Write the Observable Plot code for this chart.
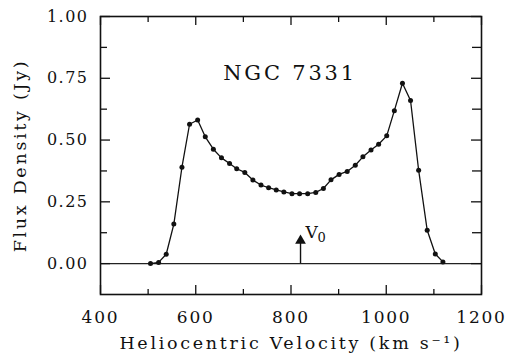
<!DOCTYPE html>
<html>
<head>
<meta charset="utf-8">
<script src="https://cdn.jsdelivr.net/npm/d3@7"></script>
<script src="https://cdn.jsdelivr.net/npm/@observablehq/plot@0.6"></script>
<style>
  html, body { margin: 0; padding: 0; background: #fff; }
</style>
</head>
<body>
<div id="chart"></div>
<script>
// HI profile of NGC 7331
const velocity = [505, 522, 538, 554, 571, 587, 604, 620, 637, 654, 671, 686, 703, 720, 737, 753, 769, 785, 802, 818,
                  835, 852, 868, 884, 901, 918, 935, 951, 968, 984, 1001, 1017, 1034, 1051, 1068, 1086, 1103, 1119];
const flux = [0.000, 0.005, 0.038, 0.160, 0.390, 0.564, 0.581, 0.513, 0.463, 0.428, 0.405, 0.384, 0.369, 0.338, 0.318, 0.307, 0.298, 0.290, 0.283, 0.283,
              0.283, 0.288, 0.304, 0.339, 0.361, 0.373, 0.398, 0.432, 0.460, 0.483, 0.517, 0.619, 0.730, 0.660, 0.378, 0.135, 0.039, 0.007];

const xMajorTicks = [400, 600, 800, 1000, 1200];
const xMinorTicks = [500, 700, 900, 1100];
const yMajorTicks = [0, 0.25, 0.5, 0.75, 1.0];
const yMinorTicks = [0.125, 0.375, 0.625, 0.875];

const xDomain = [400, 1200];
const yDomain = [-0.125, 1.0];

const titleText = ["NGC 7331"];
const titleVelocity = [798];
const titleFlux = [0.772];

const systemicVelocity = [820];   // V0 marker
const markerTop = [0.088];
const markerTip = [0.093];
const v0Label = ["V"];
const v0Sub = ["0"];
const v0LabelFlux = [0.105];

const xLabel = "Heliocentric Velocity (km s\u207B\u00B9)";
const yLabel = "Flux Density (Jy)";

const data = velocity.map((v, i) => ({v, f: flux[i]}));
const font = "DejaVu Serif";
const yFormat = d3.format(".2f");

const W = 508, H = 355, mL = 100, mR = 27, mT = 16, mB = 61;
const innerW = W - mL - mR, innerH = H - mT - mB;
const tickStyle = {stroke: "#111", strokeWidth: 1.3};

const plot = Plot.plot({
  width: W,
  height: H,
  marginLeft: mL,
  marginRight: mR,
  marginTop: mT,
  marginBottom: mB,
  style: {fontFamily: font, background: "#fff", color: "#111"},
  x: {domain: xDomain, axis: null},
  y: {domain: yDomain, axis: null},
  marks: [
    // zero line
    Plot.ruleY([0], {stroke: "#222", strokeWidth: 1.1}),
    // inward ticks: bottom / top
    Plot.tickX(xMajorTicks, {x: d => d, insetTop: innerH - 9, ...tickStyle}),
    Plot.tickX(xMinorTicks, {x: d => d, insetTop: innerH - 5, ...tickStyle}),
    Plot.tickX(xMajorTicks, {x: d => d, insetBottom: innerH - 9, ...tickStyle}),
    Plot.tickX(xMinorTicks, {x: d => d, insetBottom: innerH - 6, ...tickStyle}),
    // inward ticks: left / right
    Plot.tickY(yMajorTicks, {y: d => d, insetRight: innerW - 10, ...tickStyle}),
    Plot.tickY(yMinorTicks, {y: d => d, insetRight: innerW - 7, ...tickStyle}),
    Plot.tickY(yMajorTicks, {y: d => d, insetLeft: innerW - 10, ...tickStyle}),
    Plot.tickY(yMinorTicks, {y: d => d, insetLeft: innerW - 9, ...tickStyle}),
    // tick labels
    Plot.axisX(xMajorTicks, {anchor: "bottom", tickSize: 0, tickPadding: 16, fontSize: 17, label: null, tickFormat: d => String(d)}),
    Plot.axisY(yMajorTicks, {anchor: "left", tickSize: 0, tickPadding: 12, fontSize: 16, label: null, tickFormat: yFormat}),
    // frame
    Plot.frame({stroke: "#111", strokeWidth: 1.6}),
    // profile
    Plot.line(data, {x: "v", y: "f", stroke: "#111", strokeWidth: 1.3}),
    Plot.dot(data, {x: "v", y: "f", r: 2.5, fill: "#111", stroke: "none"}),
    // V0 marker
    Plot.ruleX(systemicVelocity, {y1: 0, y2: markerTop[0], stroke: "#111", strokeWidth: 1.4}),
    Plot.dot(systemicVelocity, {x: d => d, y: markerTip[0], symbol: "triangle", r: 4, fill: "#111", stroke: "none"}),
    Plot.text(v0Label, {x: systemicVelocity[0], y: v0LabelFlux[0], dx: 5, text: d => d, textAnchor: "start", lineAnchor: "bottom", fontSize: 17}),
    Plot.text(v0Sub, {x: systemicVelocity[0], y: v0LabelFlux[0], dx: 17, dy: 4, text: d => d, textAnchor: "start", lineAnchor: "bottom", fontSize: 13}),
    // title
    Plot.text(titleText, {x: titleVelocity[0], y: titleFlux[0], text: d => d, fontSize: 21, lineAnchor: "middle"}),
    // axis labels
    Plot.text([xLabel], {frameAnchor: "bottom", dy: 42, textAnchor: "middle", lineAnchor: "top", fontSize: 17.5, text: d => d}),
    Plot.text([yLabel], {frameAnchor: "left", dx: -80, rotate: -90, textAnchor: "middle", lineAnchor: "middle", fontSize: 17.5, text: d => d})
  ]
});

// widen lettering to match the reference's broad serif face
const spacing = new Map();
xMajorTicks.forEach(t => spacing.set(String(t), "1.8px"));
yMajorTicks.forEach(t => spacing.set(yFormat(t), "1.5px"));
spacing.set(xLabel, "2.7px");
spacing.set(yLabel, "2.7px");
spacing.set(titleText[0], "2.8px");
d3.select(plot).selectAll("text").each(function () {
  const s = spacing.get(this.textContent);
  if (s) this.style.letterSpacing = s;
});

document.getElementById("chart").appendChild(plot);
</script>
</body>
</html>
